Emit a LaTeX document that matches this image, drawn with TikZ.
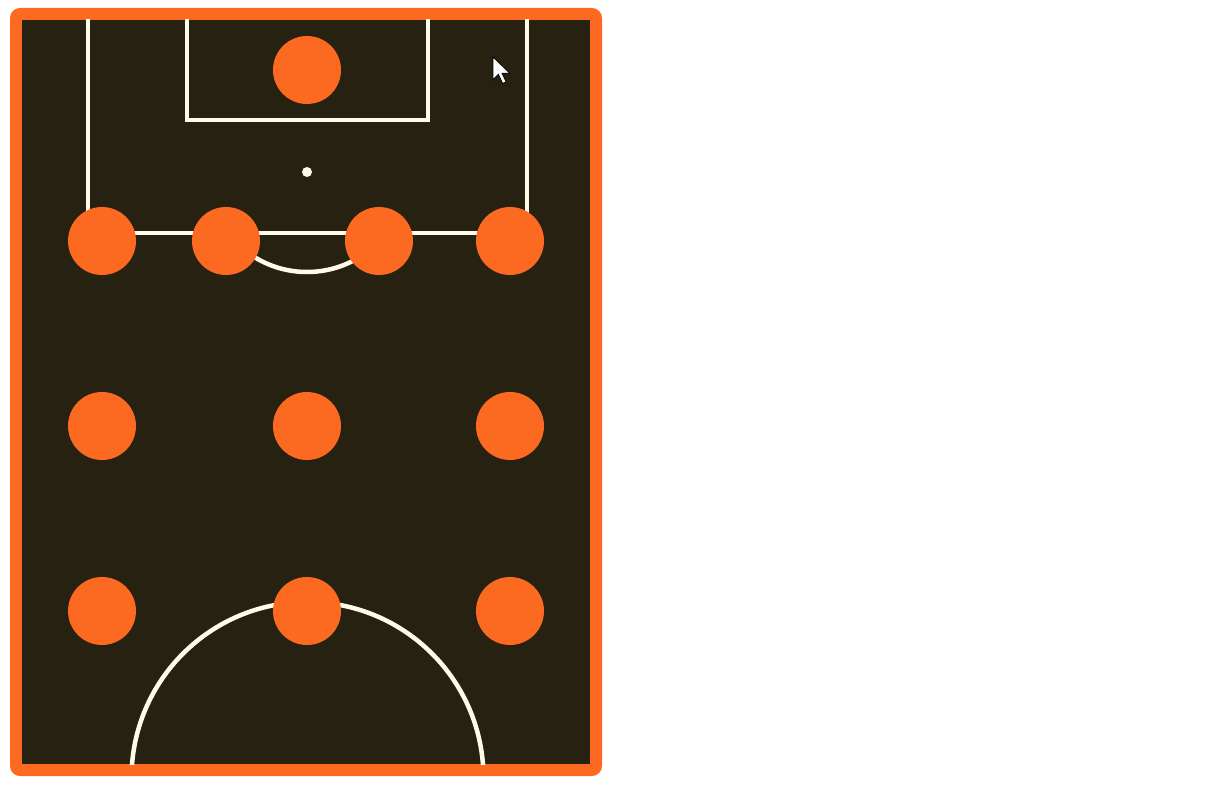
\documentclass[tikz,border=0pt]{standalone}
\begin{document}
\begin{tikzpicture}[x=1pt,y=-1pt,
  player/.style={circle,fill=porange,minimum size=68pt,inner sep=0pt},
  pline/.style={draw=cream,line width=4.5pt}]
\definecolor{porange}{HTML}{FC6A22}
\definecolor{pitch}{HTML}{262110}
\definecolor{cream}{HTML}{FFFBE8}
\useasboundingbox[fill=white] (0,0) rectangle (1228,794);
\fill[porange,rounded corners=10pt] (10,8) rectangle (602,776);
\fill[pitch] (22,20) rectangle (590,764);
\begin{scope}
\clip (22,20) rectangle (590,764);
\draw[pline] (88,16) -- (88,233) -- (527,233) -- (527,16);
\draw[pline] (187,16) -- (187,120) -- (428,120) -- (428,16);
\fill[cream] (307,172) circle (5);
\begin{scope}
\clip (22,235) rectangle (590,764);
\draw[pline] (307,172) circle (100);
\end{scope}
\draw[pline] (307.5,778) circle (176);
\end{scope}
\node[player] (gk) at (307,70) {};
\node[player] (d1) at (102,241) {};
\node[player] (d2) at (226,241) {};
\node[player] (d3) at (379,241) {};
\node[player] (d4) at (510,241) {};
\node[player] (m1) at (102,426) {};
\node[player] (m2) at (307,426) {};
\node[player] (m3) at (510,426) {};
\node[player] (a1) at (102,611) {};
\node[player] (a2) at (307,611) {};
\node[player] (a3) at (510,611) {};
\begin{scope}[shift={(493,57)},scale=1.2]
\draw[fill=white,draw=black,line width=0.8pt,line join=miter]
  (0,0) -- (0,19) -- (4.5,14.5) -- (8,22) -- (11,20.8) -- (7.5,13.5) -- (14,13.5) -- cycle;
\end{scope}
\end{tikzpicture}
\end{document}
